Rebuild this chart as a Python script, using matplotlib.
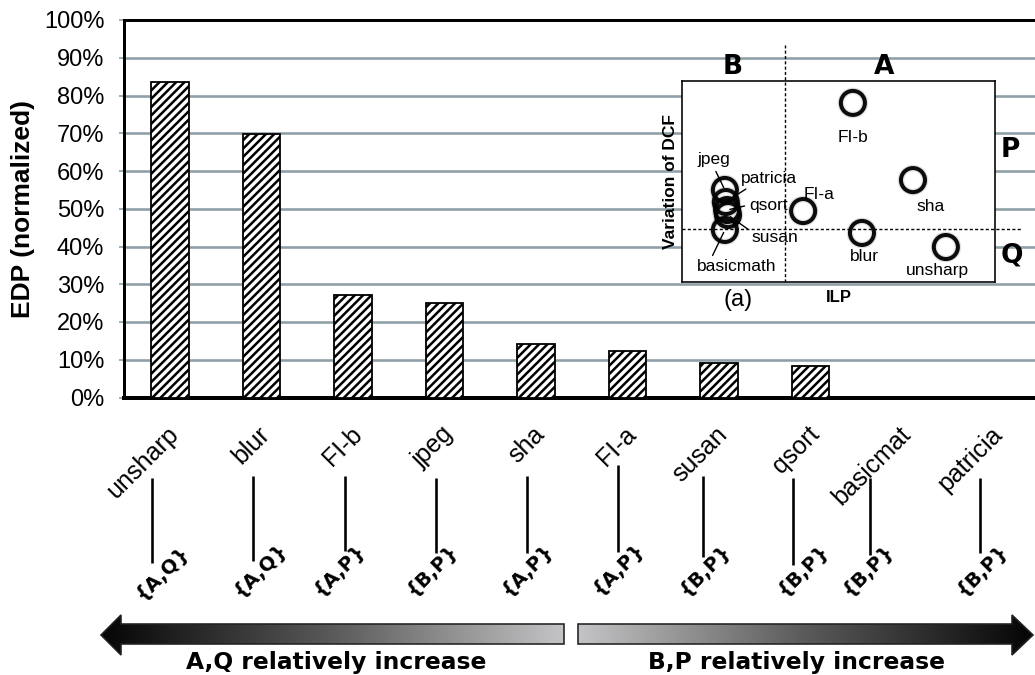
import numpy as np
import matplotlib
matplotlib.use("Agg")
import matplotlib.pyplot as plt
from matplotlib.path import Path
from matplotlib.patches import PathPatch
from matplotlib.colors import LinearSegmentedColormap
import matplotlib.transforms as mtransforms

# ---- data -------------------------------------------------------------
benchmarks = ["unsharp", "blur", "FI-b", "jpeg", "sha", "FI-a",
              "susan", "qsort", "basicmat", "patricia"]
edp = [0.837, 0.697, 0.272, 0.251, 0.142, 0.124, 0.092, 0.084, 0.0, 0.0]
quadrant = ["{A,Q}", "{A,Q}", "{A,P}", "{B,P}", "{A,P}", "{A,P}",
            "{B,P}", "{B,P}", "{B,P}", "{B,P}"]
yticks = np.arange(0, 1.01, 0.1)

# inset scatter: ILP vs variation of DCF (relative units)
inset_names = ["FI-b", "sha", "FI-a", "blur", "unsharp",
               "jpeg", "patricia", "qsort", "susan", "basicmath"]
inset_ilp = [54.6, 73.8, 38.7, 57.5, 84.3, 13.7, 14.0, 14.4, 14.7, 13.7]
inset_dcf = [89.1, 50.7, 35.3, 24.4, 17.4, 45.8, 39.8, 35.8, 33.3, 25.9]
ilp_split = 33.0
dcf_split = 26.4

arrow_left_text = "A,Q relatively increase"
arrow_right_text = "B,P relatively increase"

# ---- figure -----------------------------------------------------------
W, H = 1035, 675
DPI = 100
plt.rcParams["hatch.linewidth"] = 1.8
fig = plt.figure(figsize=(W / DPI, H / DPI), dpi=DPI)
fig.patch.set_facecolor("white")

def px(v):
    """pixels -> points"""
    return v * 72.0 / DPI

ax_left, ax_bottom_px, ax_top_px, slot = 124.25, 397.5, 20.0, 91.5
ax = fig.add_axes([ax_left / W, (H - ax_bottom_px) / H,
                   slot * len(benchmarks) / W, (ax_bottom_px - ax_top_px) / H])
x = np.arange(len(benchmarks))
ax.bar(x, edp, width=0.415, color="white", edgecolor="black",
       hatch="////", linewidth=1.3, zorder=3)
ax.set_xlim(-0.5, len(benchmarks) - 0.5)
ax.set_ylim(0, 1)
ax.set_yticks(yticks)
ax.set_yticklabels([f"{int(round(v * 100))}%" for v in yticks],
                   fontsize=17, family="Liberation Sans")
ax.tick_params(axis="y", length=px(5), width=1.2, color="#8E9FA7", pad=px(15))
ax.yaxis.grid(True, color="#8E9FA7", linewidth=px(2.6))
ax.set_axisbelow(True)
for side, lw in (("left", 3), ("bottom", 4), ("top", 3), ("right", 3)):
    ax.spines[side].set_linewidth(px(lw))
    ax.spines[side].set_color("black")

ax.set_xticks(x)
ax.set_xticklabels(benchmarks, rotation=45, ha="right", va="center",
                   rotation_mode="anchor", fontsize=18,
                   family="Liberation Sans")
ax.tick_params(axis="x", length=0, pad=px(33))
shift = mtransforms.ScaledTranslation(px(5) / 72, 0, fig.dpi_scale_trans)
for lbl in ax.get_xticklabels():
    lbl.set_transform(lbl.get_transform() + shift)

fig.text(23 / W, 1 - 209 / H, "EDP (normalized)", rotation=90,
         ha="center", va="center", fontsize=19, fontweight="bold",
         family="Liberation Sans")

# ---- pixel overlay for stems, quadrant tags and arrows ----------------
ov = fig.add_axes([0, 0, 1, 1], zorder=0)
ov.set_xlim(0, W)
ov.set_ylim(H, 0)
ov.axis("off")
ov.patch.set_visible(False)

def cat_px(i):
    return ax.transData.transform((i, 0))[0]

stem_dx = [-18, -8.5, -8, -8.5, -9, -9.5, -16, -17.5, -32, -13.5]
stem_top = [478, 476, 476, 478, 476, 465, 476, 478, 478, 478]
stem_bot = [563, 561, 551, 553, 553, 552, 557, 565, 555, 553]
tag_dx = [-8, -1.5, -14, -12.5, -9, -9.5, -14, -7.5, -34, -11.5]
tag_y = [573, 570, 570, 570, 570, 569, 570, 570, 570, 570]
for i, q in enumerate(quadrant):
    cx = cat_px(i)
    ov.plot([cx + stem_dx[i]] * 2, [stem_top[i], stem_bot[i]],
            color="black", lw=px(2.6), solid_capstyle="butt")
    ov.text(cx + tag_dx[i], tag_y[i], q, rotation=45, ha="center",
            va="center", fontsize=14, fontweight="bold",
            family="DejaVu Sans", rotation_mode="anchor")

def gradient_arrow(verts, dark_left):
    path = Path(verts + [verts[0]], closed=True)
    xs = [v[0] for v in verts]
    ys = [v[1] for v in verts]
    cmap = LinearSegmentedColormap.from_list(
        "g", ["#050505", "#5a5a5a", "#c4c4c6"] if dark_left
        else ["#c4c4c6", "#5a5a5a", "#050505"])
    grad = np.linspace(0, 1, 256).reshape(1, -1)
    im = ov.imshow(grad, cmap=cmap, aspect="auto",
                   extent=[min(xs), max(xs), max(ys), min(ys)],
                   interpolation="bicubic", zorder=1)
    patch = PathPatch(path, facecolor="none", edgecolor="#222222",
                      lw=px(1.6), zorder=2)
    ov.add_patch(patch)
    im.set_clip_path(patch)

gradient_arrow([(101, 635), (121, 615), (121, 624), (564, 624),
                (564, 644), (121, 644), (121, 655)], dark_left=True)
gradient_arrow([(578, 624), (1012, 624), (1012, 615), (1033, 635),
                (1012, 655), (1012, 644), (578, 644)], dark_left=False)
ov.set_xlim(0, W)
ov.set_ylim(H, 0)
ov.text(336, 663, arrow_left_text, ha="center", va="center",
        fontsize=16.8, fontweight="bold", family="DejaVu Sans")
ov.text(796, 663, arrow_right_text, ha="center", va="center",
        fontsize=16.8, fontweight="bold", family="DejaVu Sans")

# ---- inset: ILP vs variation of DCF ----------------------------------
box_l, box_r, box_t, box_b = 682, 995, 81, 282
ins = fig.add_axes([box_l / W, (H - box_b) / H,
                    (box_r - box_l) / W, (box_b - box_t) / H], zorder=5)
ins.set_xlim(0, 100)
ins.set_ylim(0, 100)
ins.set_xticks([])
ins.set_yticks([])
for s in ins.spines.values():
    s.set_linewidth(px(1.6))
ins.plot([ilp_split, ilp_split], [0, 118], ls=(0, (2.2, 1.6)),
         color="black", lw=px(1.4), clip_on=False)
ins.plot([0, 108.6], [dcf_split, dcf_split], ls=(0, (2.2, 1.6)),
         color="black", lw=px(1.4), clip_on=False)

# soft halo then ring
ins.scatter(inset_ilp, inset_dcf, s=300, facecolors="none",
            edgecolors="#000000", linewidths=px(6.5), alpha=0.12, zorder=3)
ins.scatter(inset_ilp, inset_dcf, s=300, facecolors="none",
            edgecolors="#000000", linewidths=px(4.0), alpha=0.95, zorder=4)

label_off = {
    "FI-b": (0, -35), "sha": (18, -26), "FI-a": (16, 17),
    "blur": (2, -24), "unsharp": (-8, -23), "jpeg": (-11, 30),
    "patricia": (43, 24), "qsort": (41, 5), "susan": (47, -22),
    "basicmath": (12, -37),
}
leader_rel = {
    "jpeg": (0.5, 0.0), "patricia": (0.25, 0.15), "qsort": (0.0, 0.5),
    "susan": (0.0, 0.85), "basicmath": (0.17, 1.0),
}
for name, xi, yi in zip(inset_names, inset_ilp, inset_dcf):
    dx, dy = label_off[name]
    kw = {}
    if name in leader_rel:
        kw["arrowprops"] = dict(arrowstyle="-", color="black", lw=1.0,
                                shrinkA=1, shrinkB=2,
                                relpos=leader_rel[name])
    ins.annotate(name, (xi, yi), xytext=(px(dx), px(dy)),
                 textcoords="offset points", ha="center", va="center",
                 fontsize=12.5, family="Liberation Sans", zorder=6, **kw)

for txt, xx, yy in (("B", 16.3, 107), ("A", 64.5, 107),
                    ("P", 104.8, 65.7), ("Q", 105.4, 13.4)):
    ins.text(xx, yy, txt, ha="center", va="center", fontsize=19,
             fontweight="bold", family="DejaVu Sans", clip_on=False)
ins.text(17.9, -9, "(a)", ha="center", va="center", fontsize=17,
         family="Liberation Sans", clip_on=False)
ins.text(50.2, -7.5, "ILP", ha="center", va="center", fontsize=12,
         fontweight="bold", family="Liberation Sans", clip_on=False)
ins.text(-3.6, 50, "Variation of DCF", rotation=90, ha="center",
         va="center", fontsize=12.5, fontweight="bold",
         family="Liberation Sans", clip_on=False)

fig.savefig("out.png", dpi=DPI, facecolor="white")
